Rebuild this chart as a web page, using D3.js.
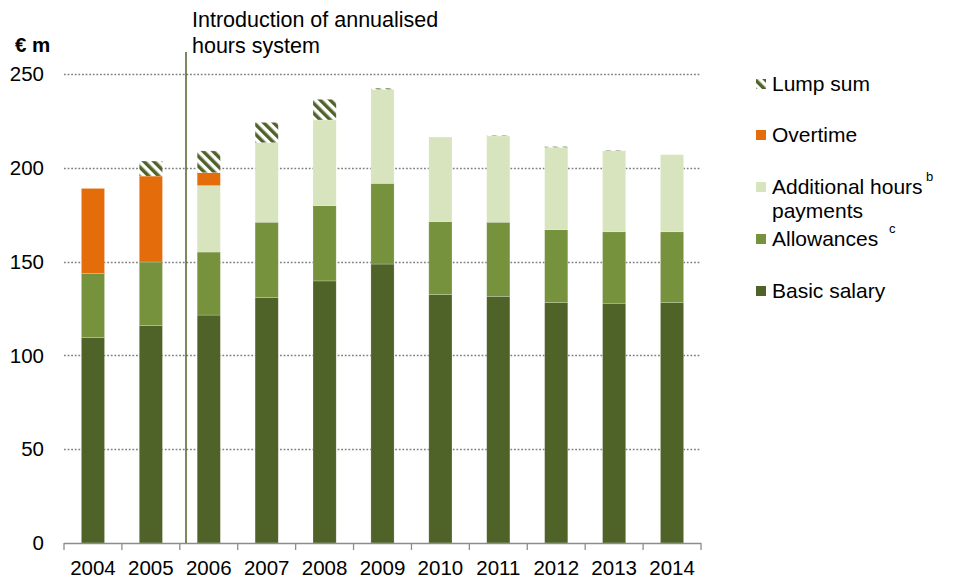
<!DOCTYPE html>
<html>
<head>
<meta charset="utf-8">
<script src="https://cdn.jsdelivr.net/npm/d3@7"></script>
<style>
  body { margin: 0; background: #fff; }
  svg { display: block; font-family: "Liberation Sans", Arial, sans-serif; }
</style>
</head>
<body>
<svg id="chart" width="957" height="580"></svg>
<script>
// Pay components, € millions per year
const years = ["2004","2005","2006","2007","2008","2009","2010","2011","2012","2013","2014"];
const basicSalary = [109.6, 116.0, 121.5, 130.8, 139.7, 148.7, 132.4, 131.5, 128.1, 127.8, 128.1];
const allowances  = [34.2, 33.8, 33.6, 40.2, 40.1, 43.0, 38.9, 39.5, 38.9, 38.1, 37.8];
const additionalHours = [0, 0, 35.4, 42.4, 45.7, 50.1, 45.1, 46.0, 43.9, 43.2, 41.1];
const overtime = [45.2, 45.8, 6.9, 0, 0, 0, 0, 0, 0, 0, 0];
const lumpSum  = [0, 8.0, 11.6, 10.8, 11.0, 0.6, 0, 0.3, 0.4, 0.3, 0];
const yTicks = [0, 50, 100, 150, 200, 250];

const seriesKeys = ["basic", "allow", "addl", "over", "lump"];
const colors = {
  basic: "#4F6228", allow: "#76923C", addl: "#D7E4BD", over: "#E46C0A", lump: "url(#hatch)"
};

const table = years.map((y, i) => ({
  year: y, basic: basicSalary[i], allow: allowances[i], addl: additionalHours[i],
  over: overtime[i], lump: lumpSum[i]
}));

const svg = d3.select("#chart");
const FS = 20.5;

const defs = svg.append("defs");
const pat = defs.append("pattern")
  .attr("id", "hatch").attr("patternUnits", "userSpaceOnUse")
  .attr("width", 7).attr("height", 7)
  .attr("patternTransform", "rotate(-45)");
pat.append("rect").attr("width", 7).attr("height", 7).attr("fill", "#fff");
pat.append("rect").attr("width", 3.5).attr("height", 7).attr("fill", "#4F6228");

const x = d3.scaleBand().domain(years).range([64, 701]).paddingInner(0.6).paddingOuter(0.3);
const y = d3.scaleLinear().domain([0, 250]).range([543, 74]);

// dotted gridlines
svg.append("g").selectAll("line").data(yTicks.filter(t => t > 0)).join("line")
  .attr("x1", 64).attr("x2", 701)
  .attr("y1", d => Math.round(y(d)) + 0.5).attr("y2", d => Math.round(y(d)) + 0.5)
  .attr("stroke", "#808080").attr("stroke-width", 1.3)
  .attr("stroke-dasharray", "1.8,1.8");

// y tick labels
svg.append("g").selectAll("text").data(yTicks).join("text")
  .attr("x", 44).attr("y", d => y(d)).attr("dy", "0.35em")
  .attr("text-anchor", "end").attr("font-size", FS).attr("fill", "#000")
  .text(d => d);

svg.append("text").attr("x", 15).attr("y", 52)
  .attr("font-size", FS).attr("font-weight", "bold").text("€ m");

// stacked bars
const stack = d3.stack().keys(seriesKeys)(table);
svg.append("g").selectAll("g").data(stack).join("g")
  .attr("fill", d => colors[d.key])
  .selectAll("rect").data(d => d.filter(s => s[1] - s[0] > 0)).join("rect")
  .attr("x", d => x(d.data.year))
  .attr("width", x.bandwidth())
  .attr("y", d => y(d[1]))
  .attr("height", d => y(d[0]) - y(d[1]))
  .attr("stroke", "rgba(255,255,255,0.35)").attr("stroke-width", 0.6);

// x axis
const boundaries = d3.range(years.length + 1).map(i => 64 + i * (637 / years.length));
const ax = svg.append("g");
ax.append("line").attr("x1", 64).attr("x2", 701).attr("y1", 543.5).attr("y2", 543.5)
  .attr("stroke", "#8c8c8c").attr("stroke-width", 1.3);
ax.selectAll("line.tick").data(boundaries).join("line").attr("class", "tick")
  .attr("x1", d => d).attr("x2", d => d).attr("y1", 543).attr("y2", 550)
  .attr("stroke", "#8c8c8c").attr("stroke-width", 1.3);
ax.selectAll("text").data(years).join("text")
  .attr("x", d => x(d) + x.bandwidth() / 2).attr("y", 575)
  .attr("text-anchor", "middle").attr("font-size", FS).text(d => d);

// annualised hours marker
const markX = 186;
svg.append("line").attr("x1", markX).attr("x2", markX).attr("y1", 52).attr("y2", 543)
  .attr("stroke", "#4F6228").attr("stroke-width", 1.5);
svg.append("text").attr("x", 192).attr("y", 27).attr("font-size", 21.5).text("Introduction of annualised");
svg.append("text").attr("x", 192).attr("y", 53).attr("font-size", 21.5).text("hours system");

// legend
const legendItems = [
  { key: "lump", lines: ["Lump sum"], y: 84 },
  { key: "over", lines: ["Overtime"], y: 135 },
  { key: "addl", lines: ["Additional hours", "payments"], y: 187, sup: "b", supX: 926 },
  { key: "allow", lines: ["Allowances"], y: 239, sup: "c", supX: 889 },
  { key: "basic", lines: ["Basic salary"], y: 291 }
];
const lg = svg.append("g");
legendItems.forEach(it => {
  lg.append("rect").attr("x", 756).attr("y", it.y - 5).attr("width", 10).attr("height", 10)
    .attr("fill", colors[it.key]);
  it.lines.forEach((ln, j) => {
    lg.append("text").attr("x", 772).attr("y", it.y + j * 24).attr("dy", "0.35em")
      .attr("font-size", 21).text(ln);
  });
  if (it.sup) {
    lg.append("text").attr("x", it.supX).attr("y", it.y - 6)
      .attr("font-size", 13).text(it.sup);
  }
});
</script>
</body>
</html>
